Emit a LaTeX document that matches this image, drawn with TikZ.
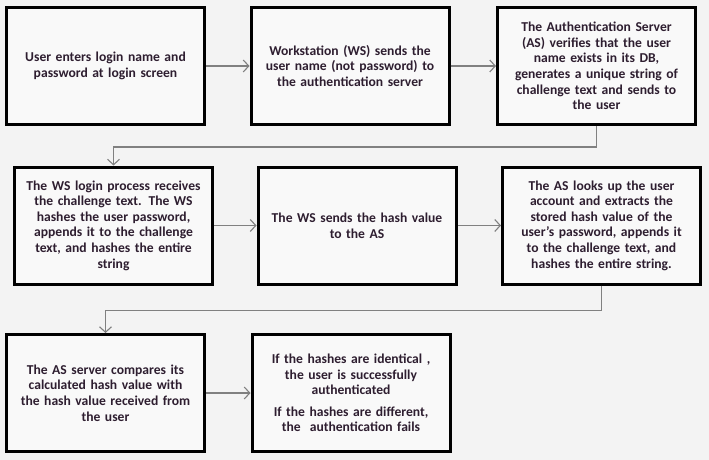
\documentclass[tikz,border=0pt]{standalone}
\usepackage{fontspec}
\setmainfont{Carlito}
\usetikzlibrary{arrows.meta}
\definecolor{bgc}{HTML}{F3F3F3}
\definecolor{boxfill}{HTML}{F9F9F9}
\definecolor{txt}{HTML}{2E1E30}
\definecolor{conncol}{HTML}{808080}
\tikzset{
  stepbox/.style={draw=black, line width=3pt, fill=boxfill, minimum width=198pt, minimum height=117pt,
    text width=190pt, align=center, inner sep=2pt, text=txt,
    font=\fontsize{13.6}{15.6}\selectfont\bfseries},
  conn/.style={draw=conncol, line width=1.2pt, -{Straight Barb[length=5.5pt,width=12pt,line width=1.1pt]}}
}
\begin{document}
\begin{tikzpicture}[x=1pt,y=-1pt]
\fill[bgc] (0,0) rectangle (709,460);
\useasboundingbox (0,0) rectangle (709,460);
\node[stepbox] (b1) at (105.5,66) {User enters login name and\\password at login screen};
\node[stepbox] (b2) at (350,66) {Workstation (WS) sends the\\user name (not password) to\\the authentication server};
\node[stepbox] (b3) at (596.5,66) {The Authentication Server\\(AS) verifies that the user\\name exists in its DB,\\generates a unique string of\\challenge text and sends to\\the user};
\node[stepbox] (b4) at (113.5,225.5) {The WS login process receives\\the challenge text. The WS\\hashes the user password,\\appends it to the challenge\\text, and hashes the entire\\string};
\node[stepbox] (b5) at (357,225.5) {The WS sends the hash value\\to the AS};
\node[stepbox] (b6) at (601.5,225.5) {The AS looks up the user\\account and extracts the\\stored hash value of the\\user's password, appends it\\to the challenge text, and\\hashes the entire string.};
\node[stepbox] (b7) at (105.5,393) {The AS server compares its\\calculated hash value with\\the hash value received from\\the user};
\node[stepbox] (b8) at (351,393) {If the hashes are identical ,\\the user is successfully\\authenticated\\[6pt]If the hashes are different,\\the\ \ authentication fails};
\draw[conn] (b1) -- (b2);
\draw[conn] (b2) -- (b3);
\draw[conn] (b3.south) -- ++(0,21) -| (b4.north);
\draw[conn] (b4) -- (b5);
\draw[conn] (b5) -- (b6);
\draw[conn] (b6.south) -- ++(0,25) -| (b7.north);
\draw[conn] (b7) -- (b8);
\end{tikzpicture}
\end{document}
